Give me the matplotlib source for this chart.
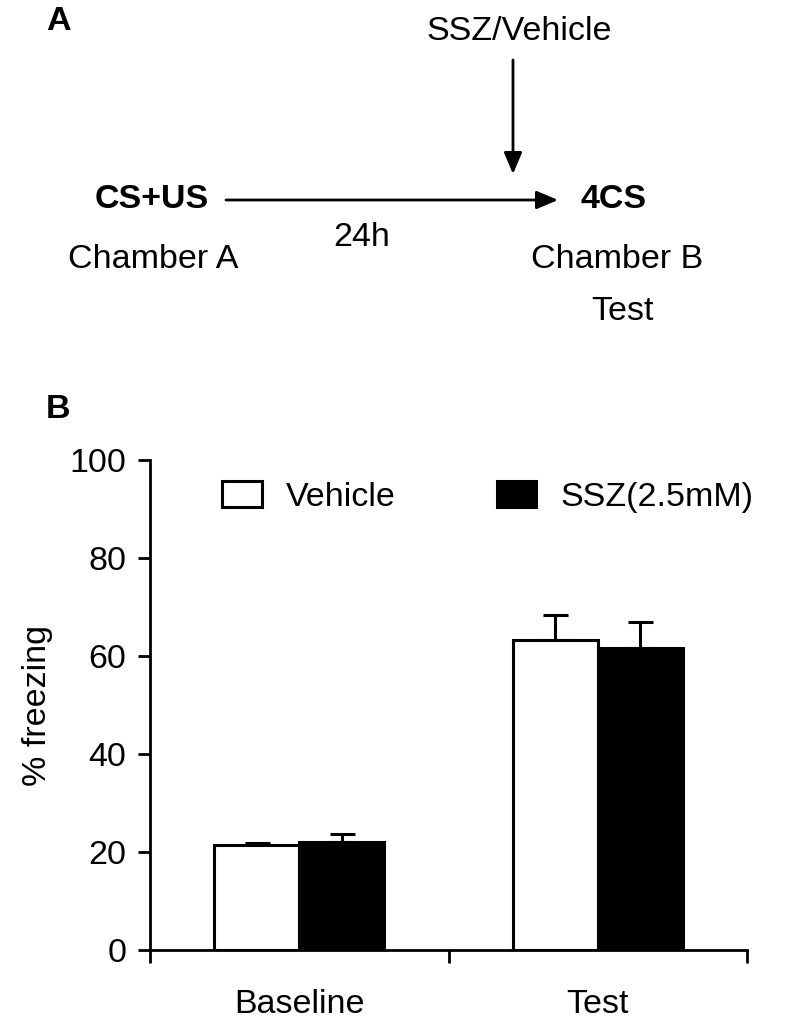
import numpy as np
import matplotlib.pyplot as plt

plt.rcParams['font.family'] = ['Liberation Sans', 'DejaVu Sans']

# data
groups = ["Baseline", "Test"]
series = ["Vehicle", "SSZ(2.5mM)"]
vehicle = [21.4, 63.3]
vehicle_err = [0.4, 5.0]
ssz = [22.0, 61.7]
ssz_err = [1.6, 5.3]
colors = ["white", "black"]
y_ticks = [0, 20, 40, 60, 80, 100]

fig = plt.figure(figsize=(7.9, 10.21), dpi=100)

# ------------------------------
# PANEL A: protocol scheme
# ------------------------------
W, H = 790, 1021

def fx(x):
    return x / W

def fy(y):
    return 1 - y / H

fs = 24.5
fig.text(fx(46), fy(22), "A", fontsize=fs, fontweight="bold", va="center", ha="left")
fig.text(fx(519), fy(32), "SSZ/Vehicle", fontsize=fs, va="center", ha="center")
fig.text(fx(152), fy(200), "CS+US", fontsize=fs, fontweight="bold", va="center", ha="center")
fig.text(fx(614), fy(200), "4CS", fontsize=fs, fontweight="bold", va="center", ha="center")
fig.text(fx(362), fy(237), "24h", fontsize=fs, va="center", ha="center")
fig.text(fx(153), fy(260), "Chamber A", fontsize=fs, va="center", ha="center")
fig.text(fx(617), fy(260), "Chamber B", fontsize=fs, va="center", ha="center")
fig.text(fx(622), fy(311), "Test", fontsize=fs, va="center", ha="center")
fig.text(fx(46), fy(410), "B", fontsize=fs, fontweight="bold", va="center", ha="left")

arrow = dict(arrowstyle="-|>,head_length=1.3,head_width=0.55", color="black", lw=2,
             shrinkA=0, shrinkB=0)
fig.add_artist(plt.Annotation("", xy=(fx(558), fy(200)), xytext=(fx(226), fy(200)),
                              xycoords="figure fraction", textcoords="figure fraction",
                              arrowprops=arrow))
fig.add_artist(plt.Annotation("", xy=(fx(513), fy(174)), xytext=(fx(513), fy(60)),
                              xycoords="figure fraction", textcoords="figure fraction",
                              arrowprops=arrow))

# ------------------------------
# PANEL B: bar chart
# ------------------------------
ax = fig.add_axes([150 / W, 1 - 950 / H, 597 / W, 490 / H])

x = np.arange(len(groups))
width = 0.285
for i, (vals, errs) in enumerate([(vehicle, vehicle_err), (ssz, ssz_err)]):
    pos = x + (i - 0.5) * width
    ax.bar(pos, vals, width, color=colors[i], edgecolor="black", linewidth=2.2,
           label=series[i], zorder=2)
    ax.errorbar(pos, vals, yerr=[np.zeros(len(errs)), errs], fmt="none",
                ecolor="black", elinewidth=2.2, capsize=9, capthick=2.2, zorder=1)

ax.set_xlim(-0.5, 1.5)
ax.set_ylim(0, 100)
ax.set_yticks(y_ticks)
ax.set_xticks(x)
ax.set_xticklabels(groups)
ax.set_xticks([-0.5, 0.5, 1.5], minor=True)
ax.tick_params(axis="x", which="major", length=0, pad=28, labelsize=fs)
ax.tick_params(axis="x", which="minor", length=9, width=2, direction="out")
ax.tick_params(axis="y", length=9, width=2, direction="out", pad=8, labelsize=fs)
ax.spines["top"].set_visible(False)
ax.spines["right"].set_visible(False)
ax.spines["left"].set_linewidth(2)
ax.spines["bottom"].set_linewidth(2)
ax.set_ylabel("% freezing", fontsize=fs, labelpad=12)

ax.legend(loc="upper left", bbox_to_anchor=(0.07, 1.02), ncol=2, frameon=False,
          fontsize=fs, handlelength=1.15, handleheight=0.8, columnspacing=3.0,
          handletextpad=0.7)

plt.savefig("out.png")
